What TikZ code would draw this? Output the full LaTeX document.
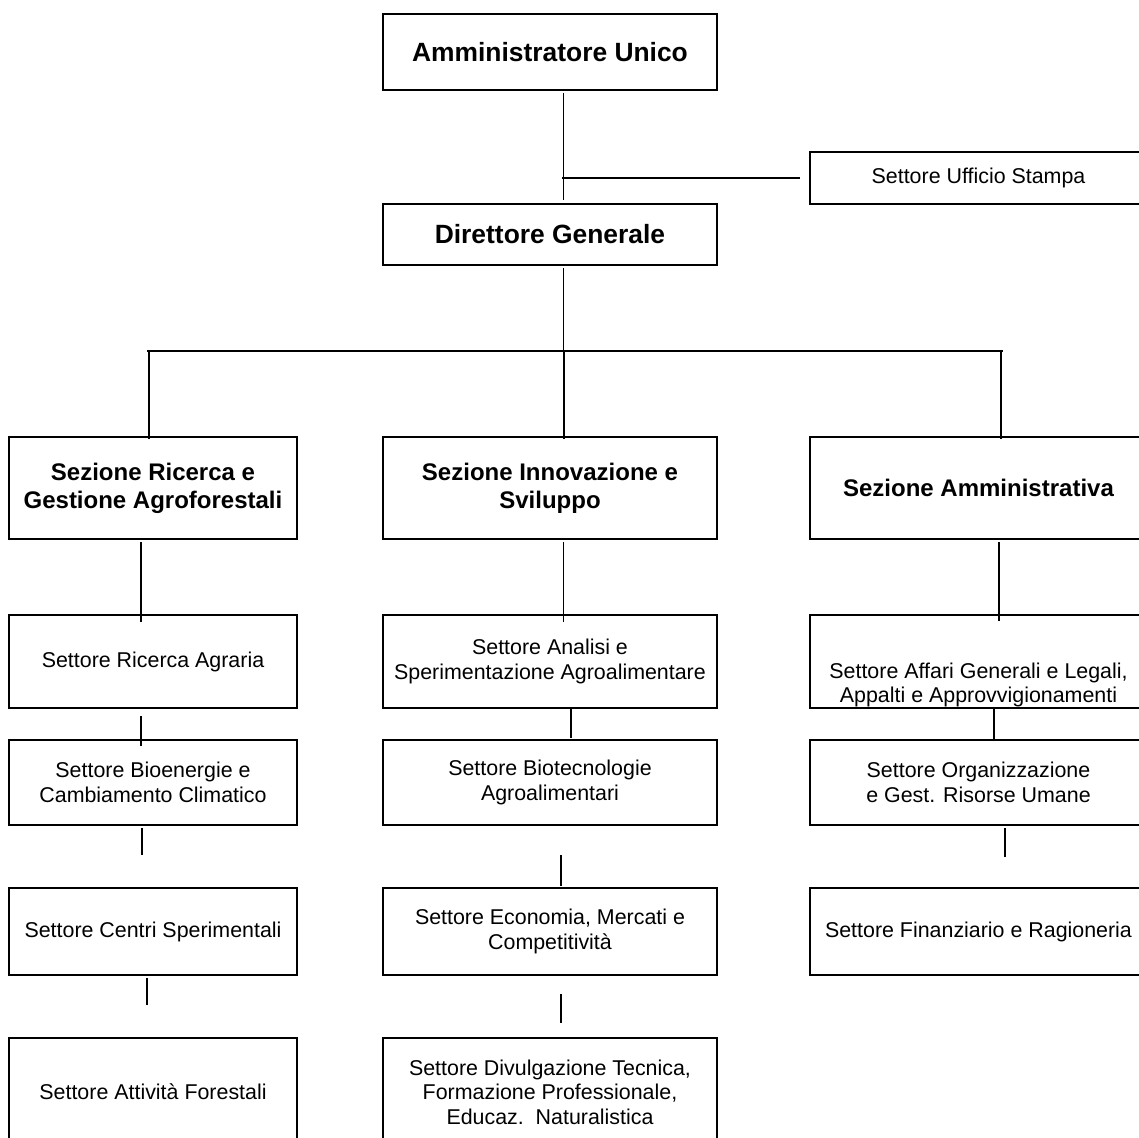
\documentclass[tikz,border=0pt]{standalone}
\usepackage{fontspec}
\setmainfont{Liberation Sans}
\usepackage{tikz}
\usetikzlibrary{shapes,arrows,positioning,calc}

\begin{document}
\begin{tikzpicture}[x=1pt, y=-1pt,
        headbox/.style={rectangle, draw=black, line width=2.4pt, inner sep=0pt, align=center, font=\fontsize{26.4}{31}\selectfont\bfseries},
        secbox/.style={rectangle, draw=black, line width=2.4pt, inner sep=0pt, align=center, minimum height=102pt, font=\fontsize{24}{28}\selectfont\bfseries},
        setbox/.style={rectangle, draw=black, line width=2.4pt, inner sep=0pt, align=center, font=\fontsize{21.4}{24.5}\selectfont},
        link/.style={line width=1.6pt},
        bus/.style={line width=2.2pt}
    ]

    \def\xl{153}   % left column centre
    \def\xm{550}   % middle column centre
    \def\xr{978.5} % right column centre
    \def\wl{288}
    \def\wm{334}
    \def\wr{337}

    \useasboundingbox (0,0) rectangle (1139,1137);
    \clip (0,0) rectangle (1139,1137);

    % Top
    \node[headbox, minimum width=\wm pt, minimum height=76pt] (amm) at (\xm,52) {Amministratore Unico};
    \node[setbox, minimum width=\wr pt, minimum height=52pt] (stampa) at (\xr,178) {Settore Ufficio Stampa};
    \node[headbox, minimum width=\wm pt, minimum height=61pt] (dg) at (\xm,234.5) {Direttore Generale};

    \coordinate (spine) at (562,0);
    \coordinate (busl) at (147,351);
    \coordinate (busr) at (1003,351);

    % Sezioni
    \node[secbox, minimum width=\wl pt] (secric) at (\xl,488) {Sezione Ricerca e\\Gestione Agroforestali};
    \node[secbox, minimum width=\wm pt] (secinn) at (\xm,488) {Sezione Innovazione e\\Sviluppo};
    \node[secbox, minimum width=\wr pt] (secamm) at (\xr,488) {Sezione Amministrativa};

    % Row 1
    \node[setbox, minimum width=\wl pt, minimum height=93pt] (ricagr) at (\xl,661.5) {Settore Ricerca Agraria};
    \node[setbox, minimum width=\wm pt, minimum height=93pt] (analisi) at (\xm,661.5) {Settore Analisi e\\Sperimentazione Agroalimentare};
    \node[setbox, minimum width=\wr pt, minimum height=93pt] (affari) at (\xr,661.5) {\mbox{}\\[38pt]Settore Affari Generali e Legali,\\Appalti e Approvvigionamenti};

    % Row 2
    \node[setbox, minimum width=\wl pt, minimum height=85pt] (bioen) at (\xl,782.5) {Settore Bioenergie e\\Cambiamento Climatico};
    \node[setbox, minimum width=\wm pt, minimum height=85pt] (biotec) at (\xm,782.5) {Settore Biotecnologie\\Agroalimentari};
    \node[setbox, minimum width=\wr pt, minimum height=85pt] (organ) at (\xr,782.5) {Settore Organizzazione\\e Gest. Risorse Umane};

    % Row 3
    \node[setbox, minimum width=\wl pt, minimum height=87pt] (centri) at (\xl,931.5) {Settore Centri Sperimentali};
    \node[setbox, minimum width=\wm pt, minimum height=87pt] (econ) at (\xm,931.5) {Settore Economia, Mercati e\\Competitivit\`a};
    \node[setbox, minimum width=\wr pt, minimum height=87pt] (finanz) at (\xr,931.5) {Settore Finanziario e Ragioneria};

    % Row 4
    \node[setbox, minimum width=\wl pt, minimum height=108pt] (forest) at (\xl,1092) {Settore Attivit\`a Forestali};
    \node[setbox, minimum width=\wm pt, minimum height=108pt] (divulg) at (\xm,1092) {Settore Divulgazione Tecnica,\\Formazione Professionale,\\Educaz.\ \ Naturalistica};

    % Links top
    \draw[link] ([xshift=13.5pt,yshift=-2pt]amm.south) -- ([xshift=13.5pt,yshift=3pt]dg.north);
    \draw[link] (spine |- stampa.west) -- ([xshift=-9pt]stampa.west);
    \draw[link] ([xshift=13.5pt,yshift=-2pt]dg.south) -- ([xshift=13.5pt]dg.south |- busl);
    \draw[bus] (busl) -- (busr);
    \draw[link] ([xshift=-4pt]secric.north |- busl) -- ([xshift=-4pt,yshift=-3pt]secric.north);
    \draw[link] ([xshift=14pt]secinn.north |- busl) -- ([xshift=14pt,yshift=-3pt]secinn.north);
    \draw[link] ([xshift=22.5pt]secamm.north |- busl) -- ([xshift=22.5pt,yshift=-3pt]secamm.north);

    % Links left
    \draw[link] ([xshift=-12pt,yshift=-2pt]secric.south) -- ([xshift=-12pt,yshift=-8pt]ricagr.north);
    \draw[link] ([xshift=-12pt,yshift=-7pt]ricagr.south) -- ([xshift=-12pt,yshift=-7pt]bioen.north);
    \draw[link] ([xshift=-11pt,yshift=-2pt]bioen.south) -- ([xshift=-11pt,yshift=32pt]centri.north);
    \draw[link] ([xshift=-6pt,yshift=-2pt]centri.south) -- ([xshift=-6pt,yshift=32pt]forest.north);

    % Links middle
    \draw[link] ([xshift=13.5pt,yshift=-2pt]secinn.south) -- ([xshift=13.5pt,yshift=-8pt]analisi.north);
    \draw[link] ([xshift=21pt]analisi.south) -- ([xshift=21pt,yshift=1pt]biotec.north);
    \draw[link] ([xshift=11pt,yshift=-29pt]biotec.south) -- ([xshift=11pt,yshift=1pt]econ.north);
    \draw[link] ([xshift=11pt,yshift=-18pt]econ.south) -- ([xshift=11pt,yshift=14pt]divulg.north);

    % Links right
    \draw[link] ([xshift=20.5pt,yshift=-2pt]secamm.south) -- ([xshift=20.5pt,yshift=-7pt]affari.north);
    \draw[link] ([xshift=15.5pt]affari.south) -- ([xshift=15.5pt,yshift=-1pt]organ.north);
    \draw[link] ([xshift=26.5pt,yshift=-2pt]organ.south) -- ([xshift=26.5pt,yshift=30pt]finanz.north);

\end{tikzpicture}
\end{document}
